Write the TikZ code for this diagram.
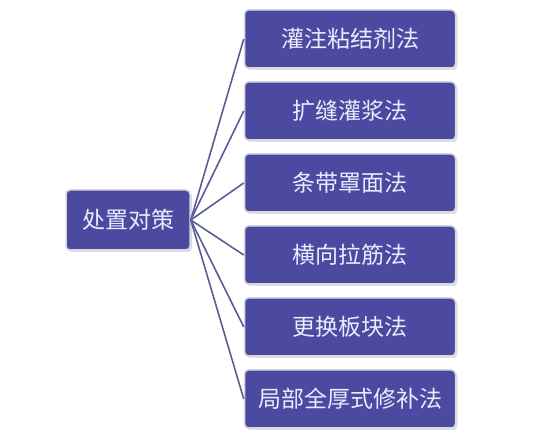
\documentclass[tikz,border=0pt]{standalone}
\usepackage{fontspec}
\newfontfamily\cjk{Noto Sans CJK SC}
\usetikzlibrary{positioning,shadows}
\definecolor{boxblue}{RGB}{76,74,160}
\definecolor{linkblue}{RGB}{92,92,150}
\definecolor{boxedge}{RGB}{215,215,225}
\tikzset{>=latex}

\begin{document}
\begin{tikzpicture}[x=1pt,y=1pt,
	box/.style={draw=boxedge, line width=1.5pt, fill=boxblue, rounded corners=4pt,
		drop shadow={shadow xshift=2pt, shadow yshift=-2pt, fill=black!25},
		text=white!92!blue, font=\cjk\fontsize{23}{26}\selectfont,
		minimum width=211pt, minimum height=58pt, inner sep=0pt},
	rootbox/.style={box, minimum width=124pt, minimum height=60pt},
	link/.style={draw=linkblue, line width=1.6pt},
	node distance=72pt, on grid]
	\useasboundingbox (0,0) rectangle (551,446);
	\node[box] (m1) at (350,407) {灌注粘结剂法};
	\node[box] (m2) [below= of m1] {扩缝灌浆法};
	\node[box] (m3) [below= of m2] {条带罩面法};
	\node[box] (m4) [below= of m3] {横向拉筋法};
	\node[box] (m5) [below= of m4] {更换板块法};
	\node[box] (m6) [below= of m5] {局部全厚式修补法};
	\node[rootbox] (root) at (128,226) {处置对策};
	\path[link]
		(root.east) edge (m1.west)
		(root.east) edge (m2.west)
		(root.east) edge (m3.west)
		(root.east) edge (m4.west)
		(root.east) edge (m5.west)
		(root.east) edge (m6.west);
\end{tikzpicture}
\end{document}
